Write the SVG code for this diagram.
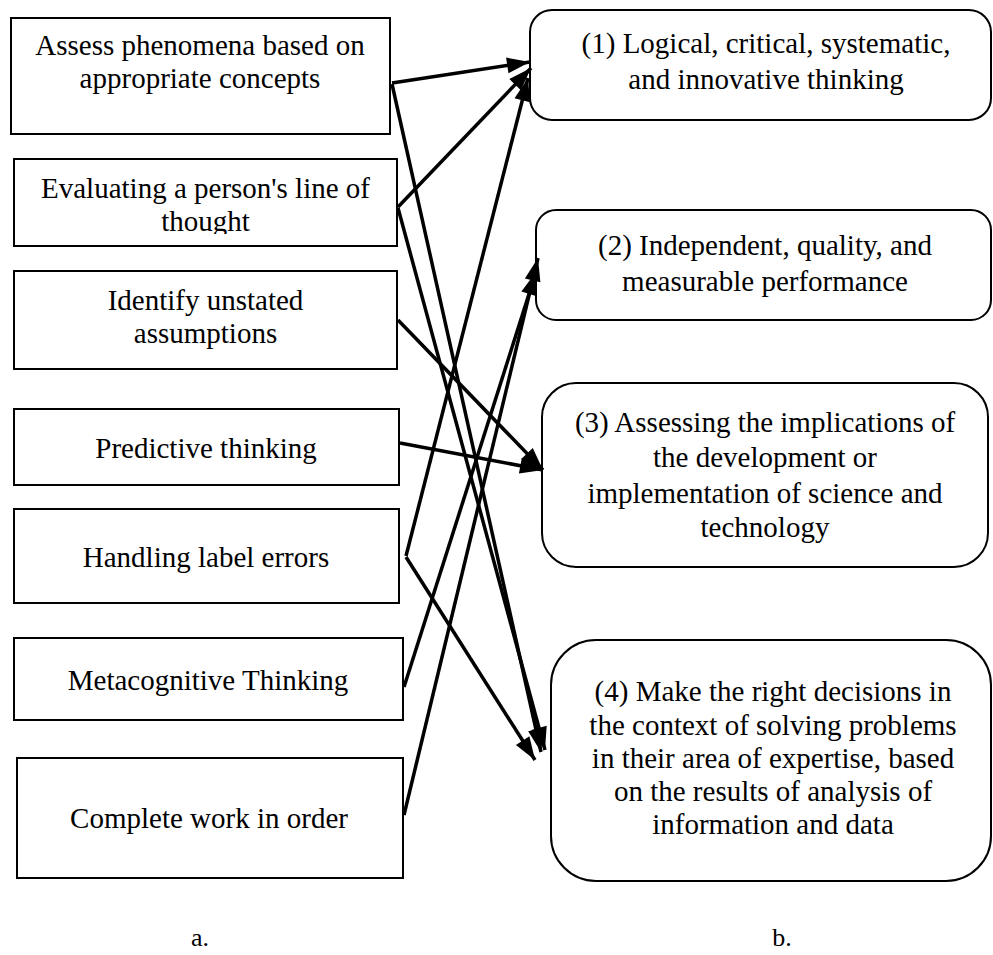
<svg xmlns="http://www.w3.org/2000/svg" width="993" height="955" viewBox="0 0 993 955">
<style>
  .box { fill: #fff; stroke: #000; stroke-width: 2; }
  .t { font-family: "Liberation Serif", "Times New Roman", serif; font-size: 29px; fill: #000; text-anchor: middle; }
  .lbl { font-family: "Liberation Serif", "Times New Roman", serif; font-size: 26px; fill: #000; text-anchor: middle; }
  .c { stroke: #000; stroke-width: 3.5; fill: none; marker-end: url(#ah); }
</style>
<defs>
  <marker id="ah" markerUnits="userSpaceOnUse" markerWidth="26" markerHeight="18" refX="23" refY="8" orient="auto" overflow="visible">
    <path d="M0,0 L23,8 L0,16 z" fill="#000"/>
  </marker>
  <clipPath id="clip2"><rect x="14" y="159" width="383" height="75"/></clipPath>
</defs>
<rect width="993" height="955" fill="#fff"/>

<g id="left1"><rect class="box" x="11" y="18" width="379" height="116"/>
  <text class="t" x="200" y="55">Assess phenomena based on</text>
  <text class="t" x="200" y="88">appropriate concepts</text></g>
<g id="left2"><rect class="box" x="14" y="159" width="383" height="87"/>
  <g clip-path="url(#clip2)">
  <text class="t" x="205.5" y="198">Evaluating a person's line of</text>
  <text class="t" x="205.5" y="231">thought</text></g></g>
<g id="left3"><rect class="box" x="14" y="271" width="383" height="98"/>
  <text class="t" x="205.5" y="310">Identify unstated</text>
  <text class="t" x="205.5" y="343">assumptions</text></g>
<g id="left4"><rect class="box" x="14" y="409" width="385" height="76"/>
  <text class="t" x="206" y="458">Predictive thinking</text></g>
<g id="left5"><rect class="box" x="14" y="509" width="385" height="94"/>
  <text class="t" x="206" y="567">Handling label errors</text></g>
<g id="left6"><rect class="box" x="14" y="638" width="389" height="82"/>
  <text class="t" x="208" y="690">Metacognitive Thinking</text></g>
<g id="left7"><rect class="box" x="17" y="758" width="386" height="120"/>
  <text class="t" x="209" y="828">Complete work in order</text></g>

<g id="right1"><rect class="box" x="530" y="10" width="461" height="110" rx="22" ry="22"/>
  <text class="t" x="766" y="53">(1) Logical, critical, systematic,</text>
  <text class="t" x="766" y="89">and innovative thinking</text></g>
<g id="right2"><rect class="box" x="536" y="210" width="455" height="110" rx="20" ry="20"/>
  <text class="t" x="765" y="255">(2) Independent, quality, and</text>
  <text class="t" x="765" y="291">measurable performance</text></g>
<g id="right3"><rect class="box" x="542" y="383" width="446" height="184" rx="34" ry="34"/>
  <text class="t" x="765" y="432">(3) Assessing the implications of</text>
  <text class="t" x="765" y="467">the development or</text>
  <text class="t" x="765" y="503">implementation of science and</text>
  <text class="t" x="765" y="537">technology</text></g>
<g id="right4"><rect class="box" x="551" y="640" width="440" height="241" rx="45" ry="45"/>
  <text class="t" x="773" y="701">(4) Make the right decisions in</text>
  <text class="t" x="773" y="735">the context of solving problems</text>
  <text class="t" x="773" y="768">in their area of expertise, based</text>
  <text class="t" x="773" y="801">on the results of analysis of</text>
  <text class="t" x="773" y="834">information and data</text></g>

<g id="connectors">
  <line class="c" x1="392" y1="83" x2="530" y2="62"/>
  <line class="c" x1="392" y1="84" x2="541" y2="752"/>
  <line class="c" x1="398" y1="207" x2="531" y2="68"/>
  <line class="c" x1="398" y1="208" x2="545" y2="750"/>
  <line class="c" x1="398" y1="320" x2="543" y2="470"/>
  <line class="c" x1="400" y1="443" x2="543" y2="470"/>
  <line class="c" x1="406" y1="556" x2="528" y2="78"/>
  <line class="c" x1="406" y1="557" x2="535" y2="760"/>
  <line class="c" x1="404" y1="687" x2="536" y2="272"/>
  <line class="c" x1="404" y1="815" x2="538" y2="258"/>
</g>

<text class="lbl" x="200" y="946">a.</text>
<text class="lbl" x="782" y="946">b.</text>
</svg>
